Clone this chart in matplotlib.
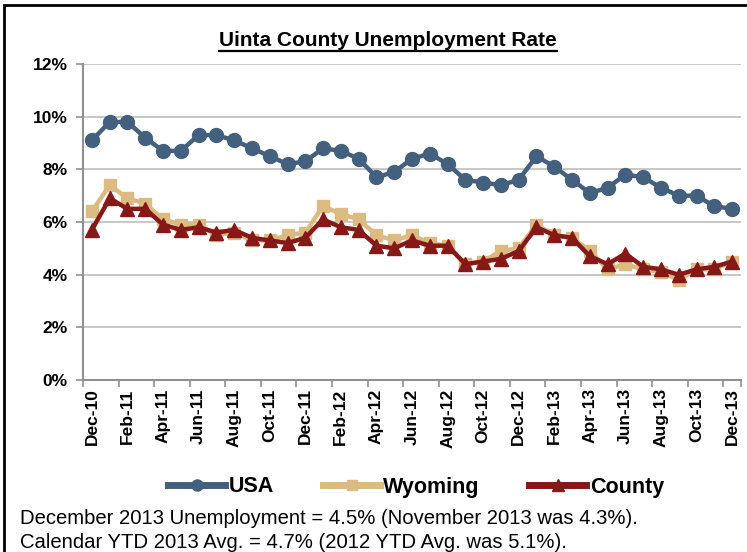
import matplotlib
matplotlib.use("Agg")
import matplotlib.pyplot as plt
from matplotlib.lines import Line2D
from matplotlib.patches import Rectangle

months = ["Dec-10", "Jan-11", "Feb-11", "Mar-11", "Apr-11", "May-11", "Jun-11", "Jul-11",
          "Aug-11", "Sep-11", "Oct-11", "Nov-11", "Dec-11", "Jan-12", "Feb-12", "Mar-12",
          "Apr-12", "May-12", "Jun-12", "Jul-12", "Aug-12", "Sep-12", "Oct-12", "Nov-12",
          "Dec-12", "Jan-13", "Feb-13", "Mar-13", "Apr-13", "May-13", "Jun-13", "Jul-13",
          "Aug-13", "Sep-13", "Oct-13", "Nov-13", "Dec-13"]

usa = [9.1, 9.8, 9.8, 9.2, 8.7, 8.7, 9.3, 9.3, 9.1, 8.8, 8.5, 8.2, 8.3,
       8.8, 8.7, 8.4, 7.7, 7.9, 8.4, 8.6, 8.2, 7.6, 7.5, 7.4, 7.6,
       8.5, 8.1, 7.6, 7.1, 7.3, 7.8, 7.7, 7.3, 7.0, 7.0, 6.6, 6.5]

wyoming = [6.4, 7.4, 6.9, 6.7, 6.1, 5.9, 5.9, 5.5, 5.6, 5.3, 5.3, 5.5, 5.6,
           6.6, 6.3, 6.1, 5.5, 5.3, 5.5, 5.2, 5.1, 4.4, 4.5, 4.9, 5.0,
           5.9, 5.5, 5.4, 4.9, 4.2, 4.4, 4.2, 4.1, 3.8, 4.2, 4.2, 4.5]

county = [5.7, 6.9, 6.5, 6.5, 5.9, 5.7, 5.8, 5.6, 5.7, 5.4, 5.3, 5.2, 5.4,
          6.1, 5.8, 5.7, 5.1, 5.0, 5.3, 5.1, 5.1, 4.4, 4.5, 4.6, 4.9,
          5.8, 5.5, 5.4, 4.7, 4.4, 4.8, 4.3, 4.2, 4.0, 4.2, 4.3, 4.5]

yticks = [0, 2, 4, 6, 8, 10, 12]
title = "Uinta County Unemployment Rate"
note1 = "December 2013 Unemployment = 4.5% (November 2013 was 4.3%)."
note2 = "Calendar YTD 2013 Avg. = 4.7% (2012 YTD Avg. was 5.1%)."

plt.rcParams['font.family'] = ['Liberation Sans', 'DejaVu Sans']

W, H = 747, 552
fig = plt.figure(figsize=(W / 100, H / 100), dpi=100)

# outer border (extends beyond the image at right/bottom)
fig.add_artist(Rectangle((4 / W, -0.1), 1.2, 1 - 5 / H + 0.1, transform=fig.transFigure,
                         fill=False, edgecolor="black", linewidth=2))

ax = fig.add_axes([83 / W, 1 - 380 / H, (741 - 83) / W, (380 - 64) / H])

x = list(range(len(months)))
c_usa = "#44607F"
c_wy = "#DBBB82"
c_co = "#861818"

ax.plot(x, usa, color=c_usa, lw=3.2, marker="o", ms=10, mec=c_usa, mfc=c_usa, zorder=3)
ax.plot(x, wyoming, color=c_wy, lw=3.2, marker="s", ms=9, mec=c_wy, mfc=c_wy, zorder=4)
ax.plot(x, county, color=c_co, lw=3.2, marker="^", ms=10, mec=c_co, mfc=c_co, zorder=5)

ax.set_xlim(-0.5, len(months) - 0.5)
ax.set_ylim(0, 12)
ax.set_yticks(yticks)
ax.set_yticklabels([f"{v}%" for v in yticks], fontsize=12.5, fontweight="bold")
ax.yaxis.grid(True, color="#BDBDBD", lw=1.2)
ax.set_axisbelow(True)

ax.set_xticks([i for i in x if i % 2 == 0])
ax.set_xticklabels([months[i] for i in x if i % 2 == 0], rotation=90,
                   fontsize=12.5, fontweight="bold")
ax.set_xticks([i - 0.5 for i in x if i % 2 == 0] + [len(months) - 0.5], minor=True)
ax.tick_params(axis="x", which="major", length=0, pad=6)
ax.tick_params(axis="x", which="minor", length=5, color="#909090", width=1.2)
ax.tick_params(axis="y", length=5, color="#909090", width=1.2, pad=6)

for s in ["top", "right"]:
    ax.spines[s].set_visible(False)
for s in ["left", "bottom"]:
    ax.spines[s].set_color("#909090")
    ax.spines[s].set_linewidth(1.5)

# title with underline
t = fig.text(388 / W, 1 - 40 / H, title, ha="center", va="center",
             fontsize=15, fontweight="bold")
fig.canvas.draw()
bb = t.get_window_extent(renderer=fig.canvas.get_renderer())
uy = bb.y0 - 1.0
fig.add_artist(Line2D([bb.x0 / W, bb.x1 / W], [uy / H, uy / H],
                      transform=fig.transFigure, color="black", lw=1.6))

handles = [
    Line2D([], [], color=c_usa, lw=5, marker="o", ms=8, mfc=c_usa, mec=c_usa),
    Line2D([], [], color=c_wy, lw=5, marker="s", ms=7.5, mfc=c_wy, mec=c_wy),
    Line2D([], [], color=c_co, lw=5, marker="^", ms=8, mfc=c_co, mec=c_co),
]
fig.legend(handles, ["USA", "Wyoming", "County"], loc="center",
           bbox_to_anchor=(416 / W, 1 - 487 / H), ncol=3, frameon=False,
           handlelength=2.65, columnspacing=2.3, handletextpad=0.15,
           prop={"size": 15.5, "weight": "bold"})

fig.text(20 / W, 1 - 518 / H, note1, ha="left", va="center", fontsize=14.6)
fig.text(20 / W, 1 - 542 / H, note2, ha="left", va="center", fontsize=14.6)

fig.savefig("out.png", dpi=100)
